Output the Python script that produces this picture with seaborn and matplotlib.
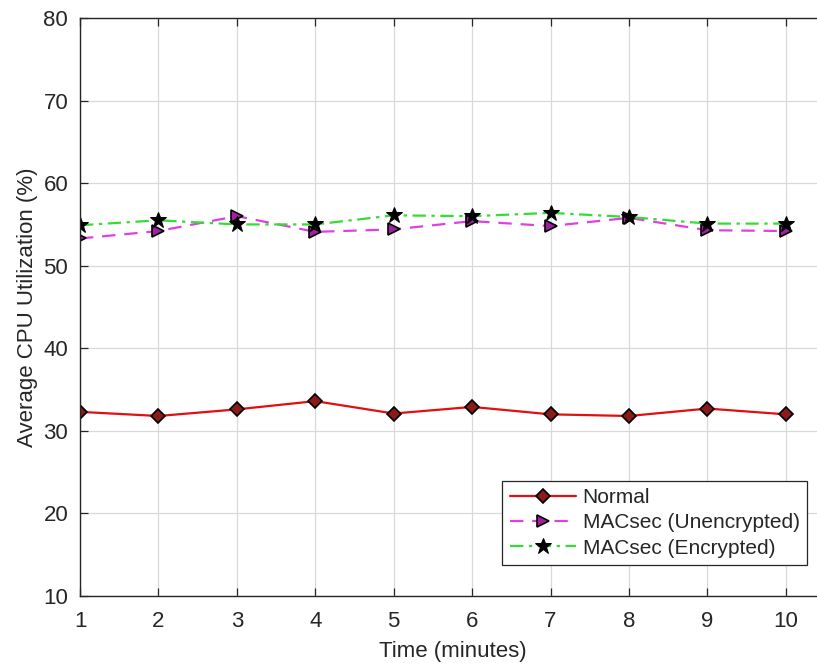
import matplotlib
matplotlib.use("Agg")
import matplotlib.pyplot as plt
import seaborn as sns
import pandas as pd

time_min = [1, 2, 3, 4, 5, 6, 7, 8, 9, 10]
normal = [32.3, 31.8, 32.6, 33.6, 32.1, 32.9, 32.0, 31.8, 32.7, 32.0]
macsec_unenc = [53.3, 54.2, 56.0, 54.1, 54.4, 55.4, 54.8, 55.8, 54.3, 54.2]
macsec_enc = [54.9, 55.5, 55.0, 55.0, 56.1, 56.0, 56.4, 55.9, 55.1, 55.1]

sns.set_theme(style="white")
plt.rcParams["font.family"] = ["Liberation Sans", "DejaVu Sans"]

fig = plt.figure(figsize=(8.17, 6.69), dpi=100)
ax = fig.add_axes([80 / 817, 73 / 669, 745 / 817, 578 / 669])

df = pd.DataFrame({"t": time_min, "normal": normal,
                   "unenc": macsec_unenc, "enc": macsec_enc})

sns.lineplot(data=df, x="t", y="normal", ax=ax, color="#e01010", lw=1.6,
             marker="D", markersize=7, markerfacecolor="#8b1a1a",
             markeredgecolor="black", markeredgewidth=1.2, label="Normal")
sns.lineplot(data=df, x="t", y="unenc", ax=ax, color="#e040e0", lw=1.6,
             linestyle=(0, (6, 4)), marker=">", markersize=9,
             markerfacecolor="#a020a0", markeredgecolor="black",
             markeredgewidth=1.2, label="MACsec (Unencrypted)")
sns.lineplot(data=df, x="t", y="enc", ax=ax, color="#33dd33", lw=1.6,
             linestyle=(0, (6, 2.5, 1.5, 2.5)), marker="*", markersize=12,
             markerfacecolor="black", markeredgecolor="black",
             label="MACsec (Encrypted)")

ax.set_xlim(1, 10.5)
ax.set_ylim(10, 80)
ax.set_xticks(time_min)
ax.set_yticks(range(10, 81, 10))
ax.grid(True, color="#d9d9d9", lw=0.9)
ax.tick_params(direction="in", length=6, width=0.9, colors="#262626",
               labelsize=16, top=True, left=True, bottom=True)
ax.tick_params(axis="x", pad=11)
ax.tick_params(axis="y", pad=8.5)
for s in ax.spines.values():
    s.set_color("#262626")
    s.set_linewidth(1.0)

ax.set_xlabel("Time (minutes)", fontsize=16, color="#262626", labelpad=6)
ax.set_ylabel("Average CPU Utilization (%)", fontsize=16, color="#262626",
              labelpad=4)

leg = ax.legend(loc="lower right", bbox_to_anchor=(0.9758, 0.0536),
                fontsize=15, frameon=True, fancybox=False, framealpha=1,
                edgecolor="#262626", handlelength=3.2, borderpad=0.35,
                labelspacing=0.3, handletextpad=0.3, borderaxespad=0)
leg.get_frame().set_linewidth(0.9)

fig.savefig("out.png", dpi=100)
